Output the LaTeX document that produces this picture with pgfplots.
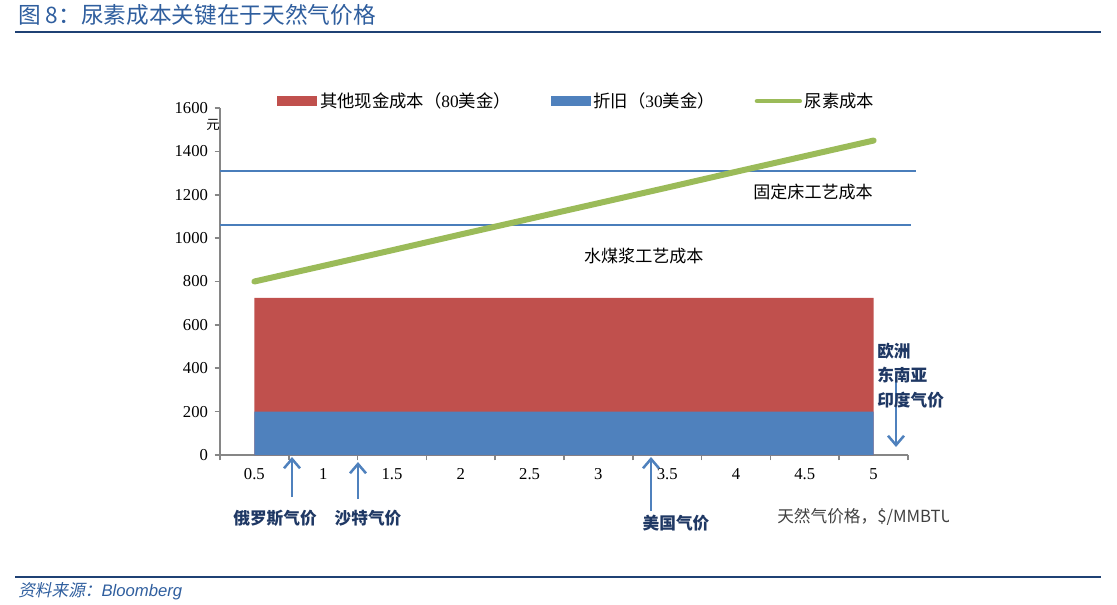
\documentclass[border=0pt]{standalone}
\usepackage{pgfplots}
\pgfplotsset{compat=1.18}
\usetikzlibrary{arrows.meta}
\usepackage{fontspec}
\setmainfont{Liberation Serif}
\newfontfamily\cjk{Noto Sans CJK SC}
\newfontfamily\cjkit[FakeSlant=0.2]{Noto Sans CJK SC}
\newfontfamily\arial{Liberation Sans}
\definecolor{redA}{HTML}{C0504D}
\definecolor{blueA}{HTML}{4F81BD}
\definecolor{greenA}{HTML}{9BBB59}
\definecolor{lineB}{HTML}{4A7EBB}
\definecolor{rule}{HTML}{1F4174}
\definecolor{titleB}{HTML}{2F5E9E}
\definecolor{navy}{HTML}{1F3864}
\definecolor{axgray}{HTML}{868686}
\definecolor{txtgray}{HTML}{404040}

\begin{document}
\begin{tikzpicture}
% pixel frame of the reference: 1 px = 0.75pt, y downwards
\begin{scope}[x=0.75pt,y=-0.75pt]
\path[use as bounding box] (0,0) rectangle (1117,604);
\node[anchor=west,text=titleB,inner sep=0pt] at (18,15)
  {\fontsize{17}{19}\selectfont\cjk 图 8：尿素成本关键在于天然气价格};
\draw[rule,line width=1.6pt] (15,32) -- (1101,32);
\draw[rule,line width=1.6pt] (15,577) -- (1101,577);
\node[anchor=west,text=titleB,inner sep=0pt] at (18,591)
  {\fontsize{12.5}{14}\selectfont{\cjkit 资料来源：}{\arial\itshape Bloomberg}};
\end{scope}

\begin{axis}[
  at={(165pt,-341.25pt)}, anchor=south west,
  width=516pt, height=260.25pt, scale only axis,
  xmin=-0.5, xmax=9.5, ymin=0, ymax=1600,
  axis lines=left, axis line style={-, axgray, line width=1.2pt},
  clip=false,
  xtick={0,...,9},
  xticklabels={0.5,1,1.5,2,2.5,3,3.5,4,4.5,5},
  major x tick style={draw=none},
  minor xtick={-0.5,0.5,...,9.5},
  ytick={0,200,...,1600},
  tick align=outside,
  major tick length=4pt, minor tick length=4pt,
  tick style={axgray, line width=1.2pt},
  /pgf/number format/assume math mode=true,
  /pgf/number format/1000 sep={},
  tick label style={font=\fontsize{12.5}{14}\selectfont},
  x tick label style={yshift=-2.5pt},
  y tick label style={xshift=-1.5pt},
  legend columns=3,
  legend style={draw=none, fill=none, at={(0.519,1.02)}, anchor=center,
    font=\fontsize{13}{15}\selectfont,
    /tikz/every even column/.append style={column sep=28pt},
    /tikz/every odd column/.append style={column sep=0pt}},
  legend cell align=left,
]
\addplot[fill=redA, draw=none, area legend,
  legend image code/.code={\fill[redA] (0pt,-3.5pt) rectangle (30pt,3.5pt);}]
  coordinates {(0,725) (1,725) (2,725) (3,725) (4,725) (5,725) (6,725) (7,725) (8,725) (9,725)} \closedcycle;
\addlegendentry{{\cjk 其他现金成本（}80{\cjk 美金）}}
\addplot[fill=blueA, draw=none, area legend,
  legend image code/.code={\fill[blueA] (0pt,-3.5pt) rectangle (30pt,3.5pt);}]
  coordinates {(0,200) (1,200) (2,200) (3,200) (4,200) (5,200) (6,200) (7,200) (8,200) (9,200)} \closedcycle;
\addlegendentry{{\cjk 折旧（}30{\cjk 美金）}}
\addplot[lineB, line width=1.5pt, forget plot] coordinates {(-0.5,1309) (9.62,1309)};
\addplot[lineB, line width=1.5pt, forget plot] coordinates {(-0.5,1060) (9.55,1060)};
\addplot[greenA, line width=4.5pt, line cap=round, mark=none,
  legend image code/.code={\draw[greenA,line width=3.5pt] (0pt,0pt) -- (32pt,0pt);}]
  coordinates {(0,800) (1,872) (2,944) (3,1017) (4,1089) (5,1161) (6,1233) (7,1306) (8,1378) (9,1450)};
\addlegendentry{{\cjk 尿素成本}}
\node[font=\fontsize{12.8}{15}\selectfont\cjk] at (axis cs:8.12,1212) {固定床工艺成本};
\node[font=\fontsize{12.8}{15}\selectfont\cjk] at (axis cs:5.66,917) {水煤浆工艺成本};
\end{axis}

\begin{scope}[x=0.75pt,y=-0.75pt]
\node[font=\fontsize{10}{12}\selectfont\cjk] at (213,125) {元};
\begin{scope}[blueA, line width=1.9pt, -{Straight Barb[length=7pt,width=12pt]}]
\draw (292,497) -- (292,457);
\draw (358,499) -- (358,462);
\draw (651,511) -- (651,457);
\draw (896,377) -- (896,447);
\end{scope}
\begin{scope}[font=\fontsize{12.5}{14}\selectfont\cjk\bfseries, text=navy]
\node at (275,518) {俄罗斯气价};
\node at (368,518) {沙特气价};
\node at (676,523) {美国气价};
\node[anchor=west,inner sep=0pt] at (877,351) {欧洲};
\node[anchor=west,inner sep=0pt] at (877,375) {东南亚};
\node[anchor=west,inner sep=0pt] at (877,400) {印度气价};
\end{scope}
\begin{scope}
\clip (770,500) rectangle (948,535);
\node[anchor=west,inner sep=0pt,text=txtgray,font=\fontsize{12.5}{14}\selectfont\cjk] at (777,517) {天然气价格，\$/MMBTU};
\end{scope}
\end{scope}
\end{tikzpicture}
\end{document}
